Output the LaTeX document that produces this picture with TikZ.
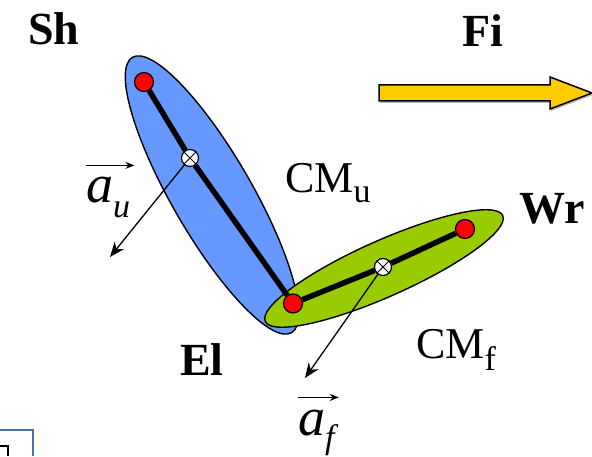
\documentclass[tikz,border=0pt]{standalone}
\usepackage{fontspec}
\setmainfont{Liberation Serif}
\usetikzlibrary{arrows.meta}
\pgfdeclarelayer{back}
\pgfsetlayers{back,main}
\definecolor{armblue}{RGB}{102,153,255}
\definecolor{armgreen}{RGB}{153,204,0}
\definecolor{arrowyellow}{RGB}{255,204,0}
\definecolor{frameblue}{RGB}{79,116,166}
\tikzset{
  joint/.style={circle, draw, fill=red, line width=1.2pt, inner sep=0pt, minimum size=19pt},
  cmass/.style={circle, draw, fill=white, line width=1.2pt, inner sep=0pt, minimum size=17pt},
  seglabel/.style={font=\fontsize{46}{50}\selectfont\bfseries, inner sep=0pt},
  cmlabel/.style={font=\fontsize{44}{48}\selectfont, anchor=base west, inner sep=0pt},
  veclabel/.style={font=\fontsize{54}{56}\selectfont\itshape, anchor=base west, inner sep=0pt},
  bone/.style={line width=5.5pt},
  accel/.style={-{Stealth[length=15pt,width=12pt]}, line width=1.3pt},
  vecarrow/.style={-{Stealth[length=9pt,width=7pt]}, line width=1.3pt},
}

\begin{document}
\begin{tikzpicture}[x=1pt, y=1pt]
    \useasboundingbox (0,0) rectangle (592,456);
    % joints and centres of mass
    \node[joint] (sh) at (144,374) {};
    \node[joint] (el) at (293,152.5) {};
    \node[joint] (wr) at (465,227) {};
    \node[cmass] (cmu) at (190,298) {};
    \node[cmass] (cmf) at (383,189) {};
    \foreach \m in {cmu, cmf} {
        \draw[line width=1pt] (\m.north east) -- (\m.south west);
        \draw[line width=1pt] (\m.north west) -- (\m.south east);
    }
    % limb segments, behind the joints
    \begin{pgfonlayer}{back}
        \draw[fill=armblue, line width=1.4pt] (212,261) ellipse[x radius=159, y radius=40, rotate=-60];
        \draw[fill=armgreen, line width=1.4pt] (384,187.5) ellipse[x radius=130, y radius=28, rotate=24];
        \draw[bone] (sh) -- (cmu) -- (el);
        \draw[bone] (el) -- (cmf) -- (wr);
    \end{pgfonlayer}
    % accelerations
    \coordinate (autip) at (110,199);
    \coordinate (aftip) at (305,78);
    \draw[accel] (cmu) -- (autip);
    \draw[accel] (cmf) -- (aftip);
    % labels
    \node[seglabel] (shlab) at (54,427) {Sh};
    \node[seglabel] (filab) at (483,425) {Fi};
    \node[seglabel, anchor=west] (wrlab) at (519,247) {Wr};
    \node[seglabel] (ellab) at (202,96) {El};
    \node[cmlabel] (cmulab) at (285,263) {CM\raisebox{-10pt}{\fontsize{34}{36}\selectfont u}};
    \node[cmlabel] (cmflab) at (416,98) {CM\raisebox{-12pt}{\fontsize{34}{36}\selectfont f}};
    \node[veclabel] (aulab) at (86,253) {a\raisebox{-14pt}{\fontsize{34}{36}\selectfont u}};
    \node[veclabel] (aflab) at (298,21) {a\raisebox{-13pt}{\fontsize{34}{36}\selectfont f}};
    \draw[vecarrow] ([yshift=12pt]aulab.north west) -- ([xshift=4pt, yshift=12pt]aulab.north east);
    \draw[vecarrow] ([yshift=12pt]aflab.north west) -- ([xshift=4pt, yshift=12pt]aflab.north east);
    % arrow to the right
    \fill[gray!55] (380,353) -- (551,353) -- (551,345) -- (593,361) -- (551,377) -- (551,369) -- (380,369) -- cycle;
    \draw[fill=arrowyellow, line width=1.5pt] (379,355) -- (550,355) -- (550,347) -- (592,363) -- (550,379) -- (550,371) -- (379,371) -- cycle;
    % frame corner
    \draw[frameblue, line width=2pt] (0,26.5) -- (33,26.5) -- (33,0);
    \draw[line width=1.5pt] (0,10) -- (8,10) -- (8,0);
\end{tikzpicture}
\end{document}
